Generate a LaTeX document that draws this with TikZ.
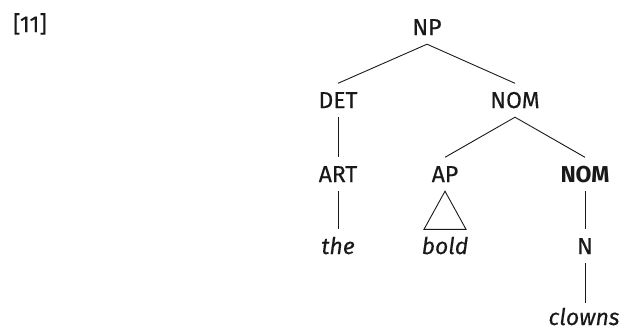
\documentclass[tikz,border=0pt]{standalone}
\usepackage{fontspec}
\setmainfont{Fira Sans}[UprightFeatures={FakeBold=0.3},ItalicFeatures={FakeBold=0.3}]
\begin{document}
\begin{tikzpicture}[x=1pt,y=-1pt,
  lab/.style={anchor=base,inner xsep=0pt,inner ysep=9pt,text height=15.5pt,text depth=0pt,font=\fontsize{23}{27}\selectfont,text=black!90},
  edge/.style={draw=black!90,line width=0.9pt}]
\useasboundingbox (0,0) rectangle (621,330);
\node[anchor=base,font=\fontsize{23}{27}\selectfont,text=black!90] (ex) at (30,32) {[11]};
\node[lab] (np) at (427,35) {NP};
\node[lab] (det) at (338,108) {DET};
\node[lab] (nom) at (515,108) {NOM};
\node[lab] (art) at (338,182) {ART};
\node[lab] (ap) at (445,182) {AP};
\node[lab,font=\fontsize{23}{27}\selectfont\bfseries] (nomb) at (585,182) {NOM};
\node[lab,font=\fontsize{23}{27}\selectfont\itshape] (the) at (338,254) {the};
\node[lab,font=\fontsize{23}{27}\selectfont\itshape] (bold) at (445,254) {bold};
\node[lab] (n) at (585,254) {N};
\node[lab,inner ysep=2pt,text height=20pt,font=\fontsize{23}{27}\selectfont\itshape] (clowns) at (584,325) {clowns};
\path[edge] (np.south) -- (det.north);
\path[edge] (np.south) -- (nom.north);
\path[edge] (det.south) -- (art.north);
\path[edge] (nom.south) -- (ap.north);
\path[edge] (nom.south) -- (nomb.north);
\path[edge] (art.south) -- (the.north);
\path[edge,line join=miter] (ap.south) -- ([xshift=-21pt]bold.north) -- ([xshift=21pt]bold.north) -- cycle;
\path[edge] (nomb.south) -- (n.north);
\path[edge] (n.south) -- (n.south |- clowns.north);
\end{tikzpicture}
\end{document}
